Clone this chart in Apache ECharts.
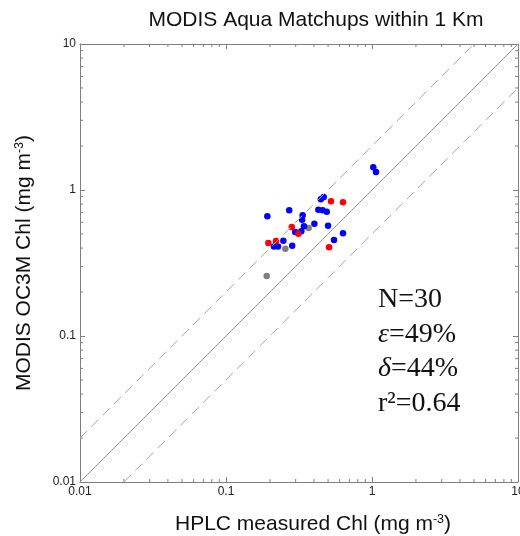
<!DOCTYPE html>
<html><head><meta charset="utf-8">
<script src="https://cdn.jsdelivr.net/npm/echarts@6/dist/echarts.min.js"></script>
<style>html,body{margin:0;padding:0;background:#fff}#c{width:520px;height:536px}</style>
</head><body><div id="c"></div>
<script>
// Data: [HPLC Chl, MODIS Chl]
const bluePoints = [[1.02,1.43],[1.065,1.33],[0.192,0.66],[0.271,0.726],[0.335,0.671],[0.332,0.626],[0.342,0.564],[0.403,0.588],[0.446,0.863],[0.467,0.895],[0.429,0.733],[0.459,0.726],[0.49,0.71],[0.50,0.569],[0.298,0.515],[0.328,0.521],[0.633,0.505],[0.549,0.455],[0.213,0.411],[0.227,0.411],[0.247,0.45],[0.284,0.415]];
const redPoints = [[0.524,0.837],[0.633,0.824],[0.282,0.558],[0.313,0.502],[0.508,0.405],[0.195,0.434],[0.22,0.448]];
const greyPoints = [[0.368,0.549],[0.255,0.396],[0.19,0.258]];
const oneToOne = [[0.01,0.01],[10,10]];
const upperLine = [[0.01,0.02],[5,10]];
const lowerLine = [[0.02,0.01],[10,5]];
const axisMin = 0.01, axisMax = 10;
const minorTickValues = [0.02,0.03,0.04,0.05,0.06,0.07,0.08,0.09,0.2,0.3,0.4,0.5,0.6,0.7,0.8,0.9,2,3,4,5,6,7,8,9];
const statLines = ['N=30','ε=49%','δ=44%','r²=0.64'];

const axisColor = '#808080';
const chart = echarts.init(document.getElementById('c'));
const baseAxis = {
  type:'log', min:axisMin, max:axisMax, logBase:10,
  axisLine:{show:true, lineStyle:{color:axisColor, width:1}},
  axisTick:{show:true, inside:true, length:5, lineStyle:{color:axisColor}},
  splitLine:{show:false}
};
const minorLen = 3;
function minorX(params, api){
  const v = api.value(0);
  const b = api.coord([v, axisMin]);
  const t = api.coord([v, axisMax]);
  return {type:'group', children:[
    {type:'line', shape:{x1:b[0],y1:b[1],x2:b[0],y2:b[1]-minorLen}, style:{stroke:axisColor,lineWidth:1}},
    {type:'line', shape:{x1:t[0],y1:t[1],x2:t[0],y2:t[1]+minorLen}, style:{stroke:axisColor,lineWidth:1}}
  ]};
}
function minorY(params, api){
  const v = api.value(1);
  const l = api.coord([axisMin, v]);
  const r = api.coord([axisMax, v]);
  return {type:'group', children:[
    {type:'line', shape:{x1:l[0],y1:l[1],x2:l[0]+minorLen,y2:l[1]}, style:{stroke:axisColor,lineWidth:1}},
    {type:'line', shape:{x1:r[0],y1:r[1],x2:r[0]-minorLen,y2:r[1]}, style:{stroke:axisColor,lineWidth:1}}
  ]};
}
const font = 'Liberation Sans, Arial, sans-serif';
const serif = 'Liberation Serif, Times New Roman, serif';
const nameRich = {a:{fontSize:21,fontFamily:font,color:'#111'}, s:{fontSize:12.5,fontFamily:font,color:'#111',verticalAlign:'top',padding:[0,0,10,0]}};
chart.setOption({
  animation:false,
  backgroundColor:'#fff',
  title:{text:'MODIS Aqua Matchups within 1 Km', left:311, textAlign:'center', top:5,
    textStyle:{fontSize:21, fontWeight:'normal', fontFamily:font, color:'#111'}},
  grid:{left:80, top:44, width:438, height:438, outerBoundsMode:'none', containLabel:false},
  xAxis:[
    Object.assign({}, baseAxis, {position:'bottom',
      axisLabel:{color:'#222', fontSize:12, fontFamily:font, margin:4},
      name:'{a|HPLC measured Chl (mg m}{s|-3}{a|)}', nameLocation:'middle', nameGap:31,
      nameTextStyle:{rich:nameRich, padding:[0,0,0,28]}}),
    Object.assign({}, baseAxis, {position:'top', axisLabel:{show:false}})
  ],
  yAxis:[
    Object.assign({}, baseAxis, {position:'left',
      axisLabel:{color:'#222', fontSize:12, fontFamily:font, margin:4},
      name:'{a|MODIS OC3M Chl (mg m}{s|-3}{a|)}', nameLocation:'middle', nameGap:44,
      nameTextStyle:{rich:nameRich}}),
    Object.assign({}, baseAxis, {position:'right', axisLabel:{show:false}})
  ],
  series:[
    {type:'line', data:oneToOne, symbol:'none', lineStyle:{color:'#999', width:1}, silent:true},
    {type:'line', data:upperLine, symbol:'none', lineStyle:{color:'#aaa', width:1, type:[10,6]}, silent:true},
    {type:'line', data:lowerLine, symbol:'none', lineStyle:{color:'#aaa', width:1, type:[10,6]}, silent:true},
    {type:'custom', renderItem:minorX, data:minorTickValues.map(v=>[v, axisMin]), silent:true},
    {type:'custom', renderItem:minorY, data:minorTickValues.map(v=>[axisMin, v]), silent:true},
    {type:'scatter', data:greyPoints, symbolSize:6.5, itemStyle:{color:'#808080', opacity:1}},
    {type:'scatter', data:bluePoints, symbolSize:6.5, itemStyle:{color:'#0000ff', opacity:1}},
    {type:'scatter', data:redPoints, symbolSize:6.5, itemStyle:{color:'#ff0000', opacity:1}}
  ],
  graphic:[{
    type:'text', left:378, top:286,
    style:{
      text: '{n|'+statLines[0]+'}\n{i|ε}{n|=49%}\n{i|δ}{n|=44%}\n{n|'+statLines[3]+'}',
      rich:{
        n:{fontSize:28, fontFamily:serif, fill:'#111', lineHeight:34.5},
        i:{fontSize:28, fontFamily:serif, fontStyle:'italic', fill:'#111', lineHeight:34.5}
      }
    }
  }]
});
</script></body></html>
